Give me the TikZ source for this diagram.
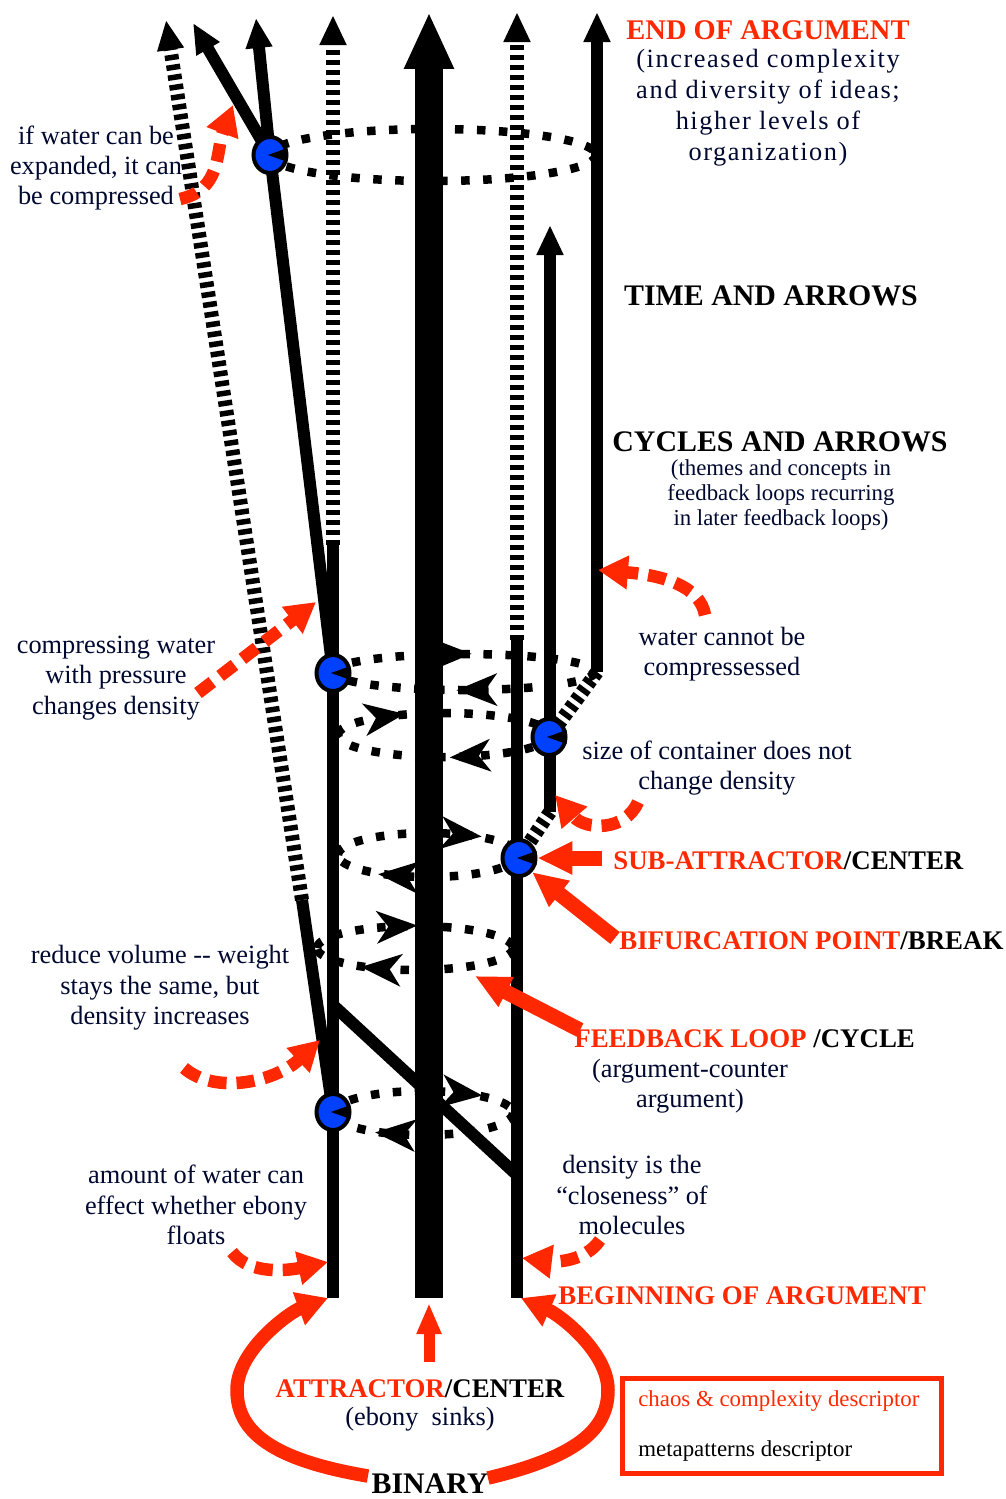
\documentclass[tikz,border=0pt]{standalone}
\usepackage{fontspec}
\setmainfont{Liberation Serif}
\newfontfamily\spacedserif[LetterSpace=6]{Liberation Serif}
\usetikzlibrary{arrows.meta, shapes.geometric, decorations.markings, calc, backgrounds}

\definecolor{accent}{RGB}{255,40,0}
\definecolor{ink}{RGB}{0,8,48}
\definecolor{hubblue}{RGB}{0,64,255}

\newcommand\notesize{\fontsize{15}{17.3}\selectfont}
\newcommand\smallnote{\fontsize{13}{14.2}\selectfont}
\newcommand\tagsize{\fontsize{15.3}{18}\selectfont\bfseries}
\newcommand\bigsize{\fontsize{17}{20}\selectfont\bfseries}

\begin{document}
\begin{tikzpicture}[x=0.02cm, y=-0.02cm,
  spine/.style={line width=0.56cm, -{Triangle[length=1.14cm,width=0.92cm]}},
  strand/.style={line width=0.24cm},
  ladder/.style={line width=0.28cm, dash pattern=on 0.11cm off 0.09cm},
  strandtip/.style={-{Triangle[length=0.6cm,width=0.5cm]}},
  loopdots/.style={draw=black, line width=0.17cm, dash pattern=on 0.17cm off 0.27cm},
  loopmark/.style={postaction={decorate, decoration={markings,
                   mark=at position #1 with {\fill[black, solid] (0.42cm,0) -- (-0.4cm,0.33cm)
                   -- (-0.16cm,0) -- (-0.4cm,-0.33cm) -- cycle;}}}},
  hub/.style={ellipse, draw=black, fill=hubblue, line width=0.08cm,
              minimum width=0.66cm, minimum height=0.72cm, inner sep=0pt},
  pointer/.style={draw=accent, line width=0.25cm, dash pattern=on 0.36cm off 0.2cm,
                  -{Triangle[length=0.6cm,width=0.64cm]}},
  redarrow/.style={draw=accent, line width=0.3cm, -{Triangle[length=0.7cm,width=0.62cm]}},
  bigcurve/.style={draw=accent, line width=0.27cm, -{Triangle[length=0.62cm,width=0.66cm]}},
  note/.style={font=\notesize, text=ink, align=center, inner sep=0pt},
  cite/.style={font=\smallnote, text=ink, align=center, inner sep=0pt},
  redtag/.style={font=\tagsize, text=accent, anchor=west, inner sep=0pt},
  heading/.style={font=\bigsize, text=black, inner sep=0pt},
]
\useasboundingbox (0,0) rectangle (1006,1499);

% === End points of the strands ===
\coordinate (spineFoot) at (429,1298);
\coordinate (spineTop) at (429,12);
\coordinate (leftFoot) at (333,1298);
\coordinate (leftJoin) at (333,545);
\coordinate (leftTop) at (333,15);
\coordinate (rightFoot) at (517,1298);
\coordinate (rightJoin) at (517,640);
\coordinate (rightTop) at (517,12);
\coordinate (outerCorner) at (597,672);
\coordinate (outerTop) at (597,12);
\coordinate (innerFoot) at (550,812);
\coordinate (innerTop) at (550,225);
\coordinate (slantBend) at (302,900);
\coordinate (slantTop) at (166,20);
\coordinate (forkUp) at (256,18);
\coordinate (forkOut) at (193,23);
\coordinate (crossStart) at (333,1005);
\coordinate (crossEnd) at (517,1175);

% === Bifurcation hubs ===
\node[hub] (hubTop) at (270,155) {};
\node[hub] (hubMid) at (333,673) {};
\node[hub] (hubRight) at (549,737) {};
\node[hub] (hubSub) at (519,858) {};
\node[hub] (hubLow) at (333,1112) {};
\foreach \h in {hubTop,hubMid,hubRight,hubSub,hubLow}
  \fill ($(\h.center)+(-2,0)$) -- ($(\h.east)+(-1,-7)$) -- ($(\h.east)+(-1,7)$) -- cycle;

% === Strands (time arrows) ===
\begin{scope}[on background layer]
  \draw[spine] (spineFoot) -- (spineTop);
  \draw[strand] (leftFoot) -- (leftJoin);
  \draw[ladder, strandtip] (leftJoin) -- (leftTop);
  \draw[strand] (rightFoot) -- (rightJoin);
  \draw[ladder, strandtip] (rightJoin) -- (rightTop);
  \draw[strand, strandtip] (outerCorner) -- (outerTop);
  \draw[ladder] (outerCorner) -- (hubRight.center);
  \draw[strand, strandtip] (innerFoot) -- (innerTop);
  \draw[ladder] (innerFoot) -- (hubSub.center);
  \draw[strand] (hubLow.center) -- (slantBend);
  \draw[ladder, strandtip] (slantBend) -- (slantTop);
  \draw[strand] (hubMid.center) -- (hubTop.center);
  \draw[strand, strandtip] (hubTop.center) -- (forkUp);
  \draw[strand, strandtip] (hubTop.center) -- (forkOut);
  \draw[strand] (crossStart) -- (crossEnd);

  % feedback loops
  \draw[loopdots] (433,155) ellipse[x radius=163, y radius=26];
  \draw[loopdots, loopmark=0.45] (333,672) arc[start angle=180, end angle=360, x radius=131, y radius=18];
  \draw[loopdots, loopmark=0.45] (595,672) arc[start angle=0, end angle=180, x radius=131, y radius=18];
  \draw[loopdots, loopmark=0.23] (338,735) arc[start angle=180, end angle=360, x radius=106, y radius=22];
  \draw[loopdots, loopmark=0.38] (550,735) arc[start angle=0, end angle=180, x radius=106, y radius=22];
  \draw[loopdots, loopmark=0.67] (338,855) arc[start angle=180, end angle=360, x radius=90, y radius=22];
  \draw[loopdots, loopmark=0.65] (518,855) arc[start angle=0, end angle=180, x radius=90, y radius=22];
  \draw[loopdots, loopmark=0.41] (317,948) arc[start angle=180, end angle=360, x radius=98, y radius=22];
  \draw[loopdots, loopmark=0.66] (513,948) arc[start angle=0, end angle=180, x radius=98, y radius=22];
  \draw[loopdots, loopmark=0.70] (333,1113) arc[start angle=180, end angle=360, x radius=90, y radius=22];
  \draw[loopdots, loopmark=0.64] (513,1113) arc[start angle=0, end angle=180, x radius=90, y radius=22];
\end{scope}

% === Labels ===
\node[heading, text=accent, font=\fontsize{16.2}{19}\selectfont\bfseries] (endArg) at (768,30) {END OF ARGUMENT};
\node[note, font=\fontsize{15}{17.6}\spacedserif] (endNote) at (768,108)
     {(increased complexity\\and diversity of ideas;\\higher levels of\\organization)};
\node[heading] (timeArrows) at (771,296) {TIME AND ARROWS};
\node[heading] (cycleArrows) at (780,442) {CYCLES AND ARROWS};
\node[cite] (cycleNote) at (781,495) {(themes and concepts in\\feedback loops recurring\\in later feedback loops)};
\node[note] (expandNote) at (96,168) {if water can be\\expanded, it can\\be compressed};
\node[note] (compressNote) at (116,678) {compressing water\\with pressure\\changes density};
\node[note] (cannotNote) at (722,654) {water cannot be\\compressessed};
\node[note] (sizeNote) at (717,768) {size of container does not\\change density};
\node[redtag] (subTag) at (613,861) {SUB-ATTRACTOR\textcolor{black}{/CENTER}};
\node[redtag] (bifTag) at (619,941) {BIFURCATION POINT\textcolor{black}{/BREAK}};
\node[note] (reduceNote) at (160,988) {reduce volume -{}- weight\\stays the same, but\\density increases};
\node[redtag] (loopTag) at (574,1039) {FEEDBACK LOOP \textcolor{black}{/CYCLE}};
\node[note] (loopNote) at (690,1086) {(argument-counter\\argument)};
\node[note] (amountNote) at (196,1205) {amount of water can\\effect whether ebony\\floats};
\node[note] (densityNote) at (632,1195) {density is the\\“closeness” of\\molecules};
\node[redtag] (beginTag) at (558,1296) {BEGINNING OF ARGUMENT};
\node[heading, font=\tagsize] (attrTag) at (420,1389) {\textcolor{accent}{ATTRACTOR}/CENTER};
\node[note] (ebonyNote) at (420,1419) {(ebony\ \ sinks)};
\node[heading] (binary) at (430,1484) {BINARY};

% === Legend ===
\node[draw=accent, line width=0.1cm, minimum width=6.4cm, minimum height=1.9cm,
      inner sep=0pt] (legend) at (782,1426) {};
\node[cite, anchor=west, text=accent] (chaosKey) at (638,1401) {chaos \& complexity descriptor};
\node[cite, anchor=west, text=black] (metaKey) at (638,1451) {metapatterns descriptor};

% === Red pointers ===
\coordinate (expandTail) at (180,199);
\coordinate (expandTip) at (233,105);
\coordinate (compressTail) at (198,693);
\coordinate (compressTip) at (316,602);
\coordinate (cannotTail) at (705,615);
\coordinate (cannotTip) at (598,570);
\coordinate (sizeTail) at (638,802);
\coordinate (sizeTip) at (555,795);
\coordinate (reduceTail) at (184,1068);
\coordinate (reduceTip) at (320,1040);
\coordinate (amountTail) at (232,1252);
\coordinate (amountTip) at (328,1262);
\coordinate (densityTail) at (600,1240);
\coordinate (densityTip) at (522,1258);
\draw[pointer] (expandTail) .. controls (222,190) and (216,150) .. (expandTip);
\draw[pointer] (compressTail) -- (compressTip);
\draw[pointer] (cannotTail) .. controls (700,585) and (660,575) .. (cannotTip);
\draw[pointer] (sizeTail) .. controls (625,832) and (585,830) .. (sizeTip);
\draw[pointer] (reduceTail) .. controls (215,1095) and (275,1082) .. (reduceTip);
\draw[pointer] (amountTail) .. controls (250,1276) and (290,1270) .. (amountTip);
\draw[pointer] (densityTail) .. controls (585,1262) and (555,1262) .. (densityTip);

% === Red arrows ===
\coordinate (subTail) at (602,858);
\coordinate (bifTail) at (615,938);
\coordinate (loopTail) at (580,1030);
\coordinate (loopTip) at (475,976);
\coordinate (attrTail) at (429,1362);
\coordinate (attrTip) at (429,1303);
\coordinate (binLeft) at (368,1476);
\coordinate (binRight) at (488,1478);
\coordinate (leftTip) at (328,1298);
\coordinate (rightTip) at (521,1298);
\draw[redarrow] (subTail) -- (hubSub.east);
\draw[redarrow] (bifTail) -- (hubSub.south east);
\draw[redarrow] (loopTail) -- (loopTip);
\draw[redarrow, line width=0.22cm, -{Triangle[length=0.62cm,width=0.46cm]}] (attrTail) -- (attrTip);
\draw[bigcurve] (binLeft) .. controls (260,1458) and (237,1425) .. (237,1390)
                .. controls (237,1350) and (290,1312) .. (leftTip);
\draw[bigcurve] (binRight) .. controls (585,1455) and (608,1425) .. (608,1390)
                .. controls (608,1352) and (560,1315) .. (rightTip);

\end{tikzpicture}
\end{document}
